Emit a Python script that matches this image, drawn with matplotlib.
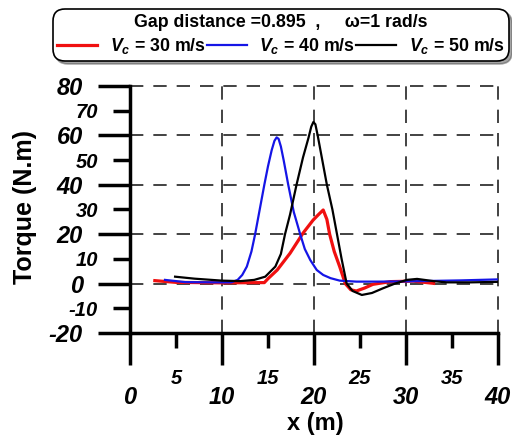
import matplotlib
matplotlib.use('Agg')
import matplotlib.pyplot as plt
from matplotlib.ticker import FixedLocator, FixedFormatter

plt.rcParams['font.family'] = ['Liberation Sans', 'DejaVu Sans']
plt.rcParams['font.weight'] = 'bold'
plt.rcParams['mathtext.fontset'] = 'custom'
plt.rcParams['mathtext.it'] = 'Liberation Sans:italic:bold'
plt.rcParams['mathtext.rm'] = 'Liberation Sans:bold'

# Vc = 30 m/s
x30 = [2.7, 5, 10, 14.6, 15.0, 16.0, 17.4, 18.8, 19.9, 20.5, 21.0, 21.4, 21.7, 22.2,
       22.8, 23.4, 24.0, 24.6, 25.5, 26.4, 28.3, 30.8, 33.0]
y30 = [1.2, 0.5, 0.3, 0.4, 2.0, 5.5, 12.3, 20.4, 25.7, 28, 29.8, 26, 20, 13,
       6.8, 0, -2.5, -3.0, -1.8, -0.3, 0.8, 1.0, 0.1]

# Vc = 40 m/s
x40 = [3.8, 6, 9, 11, 11.7, 12.2, 12.7, 13.2, 13.6, 14.1, 14.6, 15.0, 15.4, 15.7,
       15.94, 16.15, 16.4, 16.7, 17.2, 17.8, 18.5, 19.0, 19.6, 20.3, 21.0, 21.8,
       22.8, 24.6, 27, 30, 33, 36, 40]
y40 = [1.5, 0.6, 0.5, 0.5, 1.5, 3.5, 6.9, 13, 20, 30, 40, 47.5, 54, 57.8,
       59.2, 58.6, 55.5, 50, 40, 29, 20, 14, 9.5, 5.5, 3.5, 2.2,
       1.2, 0.8, 0.8, 0.9, 1.1, 1.3, 1.7]

# Vc = 50 m/s
x50 = [4.9, 7, 10, 12, 13.5, 14.7, 15.8, 16.4, 16.85, 17.4, 18.1, 18.8, 19.4, 19.7,
       19.93, 20.15, 20.4, 21.0, 21.4, 22.0, 22.5, 23.0, 23.55, 24.2, 25.2, 26.3,
       27.5, 28.8, 30.1, 31.2, 33.0, 34.4, 37, 40]
y50 = [2.8, 2.0, 1.2, 1.0, 1.5, 2.8, 6.9, 12, 20, 28, 40, 51, 59, 63.5,
       65.4, 64.5, 60, 48, 40, 30, 20, 10, 0, -3, -4.6, -3.8,
       -1.9, 0, 1.5, 1.9, 1.0, 0.5, 0.5, 0.7]

xmajor = [0, 10, 20, 30, 40]
xminor = [5, 15, 25, 35]
ymajor = [-20, 0, 20, 40, 60, 80]
yminor = [-10, 10, 30, 50, 70]

fig = plt.figure(figsize=(5.12, 4.41), dpi=100)
ax = fig.add_axes([130/512, 1-333/441, 368/512, 247/441])

ax.plot(x30, y30, color='#f01010', lw=2.3, label=r'$V_c$ = 30 m/s')
ax.plot(x40, y40, color='#1515e6', lw=1.6, label=r'$V_c$ = 40 m/s')
ax.plot(x50, y50, color='black', lw=1.6, label=r'$V_c$ = 50 m/s')

ax.set_xlim(0, 40)
ax.set_ylim(-20, 80)

ax.xaxis.set_major_locator(FixedLocator(xmajor))
ax.xaxis.set_minor_locator(FixedLocator(xminor))
ax.yaxis.set_major_locator(FixedLocator(ymajor))
ax.yaxis.set_minor_locator(FixedLocator(yminor))
ax.xaxis.set_major_formatter(FixedFormatter([str(v) for v in xmajor]))
ax.xaxis.set_minor_formatter(FixedFormatter([str(v) for v in xminor]))
ax.yaxis.set_major_formatter(FixedFormatter([str(v) for v in ymajor]))
ax.yaxis.set_minor_formatter(FixedFormatter([str(v) for v in yminor]))

for s in ['top', 'right']:
    ax.spines[s].set_visible(False)
for s in ['left', 'bottom']:
    ax.spines[s].set_linewidth(2.5)

ax.tick_params(axis='x', which='major', length=23, width=2.5, pad=15, labelsize=17)
ax.tick_params(axis='x', which='minor', length=11, width=2.5, pad=15, labelsize=14.5)
ax.tick_params(axis='y', which='major', length=23, width=2.5, pad=11, labelsize=17)
ax.tick_params(axis='y', which='minor', length=12, width=2.5, pad=11, labelsize=14.5)
plt.setp(ax.get_xticklabels(which='both') + ax.get_yticklabels(which='both'),
         fontstyle='italic', fontweight='bold')

ax.grid(True, which='major', color='#222222', lw=1.2, ls=(0, (8, 6)))
for gl in ax.get_xgridlines() + ax.get_ygridlines():
    gl.set_clip_on(False)

ax.set_xlabel('x (m)', fontsize=17, fontweight='bold', va='center')
ax.xaxis.set_label_coords(0.503, -0.368)
ax.set_ylabel('Torque (N.m)', fontsize=18, fontweight='bold', va='center')
ax.yaxis.set_label_coords(-0.285, 0.51)

leg = fig.legend(loc='center', bbox_to_anchor=(281/512, 1-35/441), ncol=3,
                 title='Gap distance =0.895  ,     \u03c9=1 rad/s',
                 fontsize=12.8, title_fontsize=12.8, frameon=True, fancybox=True,
                 shadow=True, handlelength=2.25, handletextpad=0.7,
                 columnspacing=0.05, borderpad=0.15, labelspacing=0.32)
frame = leg.get_frame()
frame.set_edgecolor('black')
frame.set_linewidth(1.2)
frame.set_boxstyle('round', pad=0.12, rounding_size=0.7)
leg.get_title().set_fontweight('bold')

fig.savefig('out.png', dpi=100)
